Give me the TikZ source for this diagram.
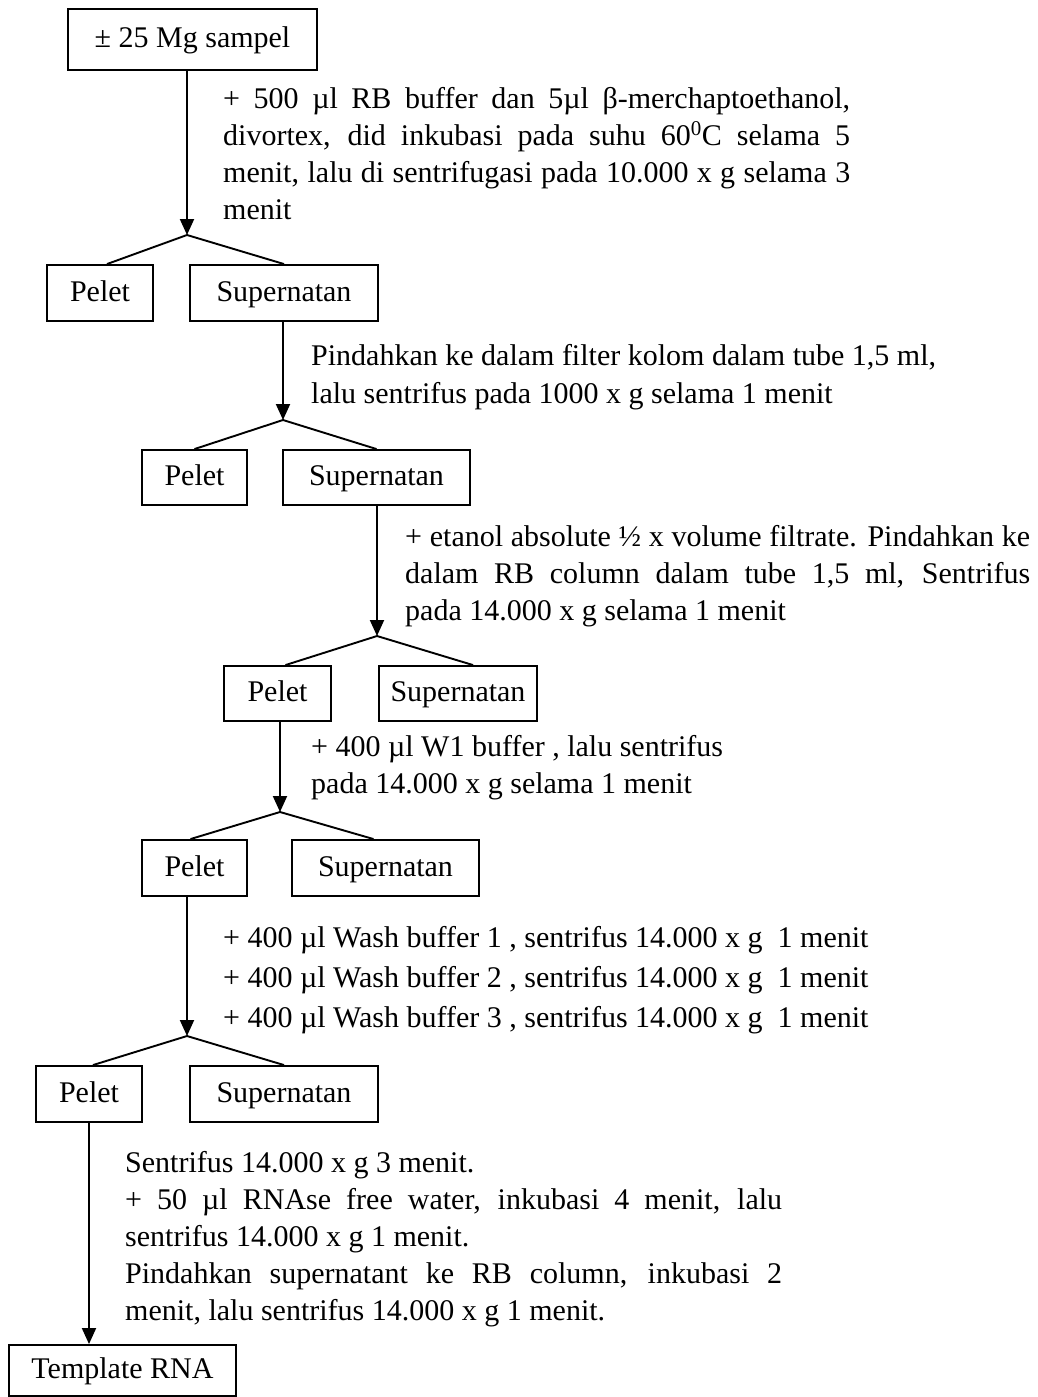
\documentclass[tikz,border=0pt]{standalone}
\usepackage{fontspec}
\setmainfont{Liberation Serif}
\usetikzlibrary{arrows.meta}
\begin{document}
\begin{tikzpicture}[x=1pt,y=-1pt,
  every node/.style={font=\fontsize{30}{37}\selectfont},
  box/.style={draw,line width=1.9pt,inner sep=0pt,minimum height=56pt,text height=22pt,text depth=6pt},
  txt/.style={anchor=base west,inner sep=0pt},
  arr/.style={line width=1.9pt,-{Triangle[width=14pt,length=16pt]}},
  ln/.style={line width=1.9pt}]
\useasboundingbox (0,0) rectangle (1038,1397);

% boxes
\node[box,minimum width=249pt,minimum height=61pt] (a0) at (192.5,39.5) {± 25 Mg sampel};
\node[box,minimum width=106pt] (p1) at (100,293) {Pelet};
\node[box,minimum width=188pt] (s1) at (284,293) {Supernatan};
\node[box,minimum width=105pt,minimum height=55pt] (p2) at (194.5,477.5) {Pelet};
\node[box,minimum width=187pt,minimum height=55pt] (s2) at (376.5,477.5) {Supernatan};
\node[box,minimum width=107pt,minimum height=55pt] (p3) at (277.5,693.5) {Pelet};
\node[box,minimum width=158pt,minimum height=55pt] (s3) at (458,693.5) {Supernatan};
\node[box,minimum width=105pt] (p4) at (194.5,868) {Pelet};
\node[box,minimum width=187pt] (s4) at (385.5,868) {Supernatan};
\node[box,minimum width=106pt] (p5) at (89,1094) {Pelet};
\node[box,minimum width=188pt] (s5) at (284,1094) {Supernatan};
\node[box,minimum width=227pt,minimum height=51pt] (rna) at (122.5,1370.5) {Template RNA};

% fork apexes
\coordinate (f1) at (187,235);
\coordinate (f2) at (283,420);
\coordinate (f3) at (377,636);
\coordinate (f4) at (280,812);
\coordinate (f5) at (187,1036);

% arrows
\draw[arr] (a0.south -| f1) -- (f1);
\draw[arr] (s1.south -| f2) -- (f2);
\draw[arr] (s2.south -| f3) -- (f3);
\draw[arr] (p3.south -| f4) -- (f4);
\draw[arr] (p4.south -| f5) -- (f5);
\draw[arr] (p5.south) -- (p5.south |- rna.north);

% forks
\draw[ln] ([xshift=7pt]p1.north) -- (f1) -- (s1.north);
\draw[ln] (p2.north) -- (f2) -- (s2.north);
\draw[ln] ([xshift=8pt]p3.north) -- (f3) -- ([xshift=15pt]s3.north);
\draw[ln] ([xshift=-4pt]p4.north) -- (f4) -- ([xshift=-12pt]s4.north);
\draw[ln] ([xshift=4pt]p5.north) -- (f5) -- (s5.north);

% step texts
\node[txt] (t1a) at (223,108) {\makebox[627pt][s]{+ 500 µl RB buffer dan 5µl β-merchaptoethanol,}};
\node[txt] (t1b) at (223,145) {\makebox[627pt][s]{divortex, did inkubasi pada suhu 60\textsuperscript{0}C selama 5}};
\node[txt] (t1c) at (223,182) {\makebox[627pt][s]{menit, lalu di sentrifugasi pada 10.000 x g selama 3}};
\node[txt] (t1d) at (223,219) {menit};

\node[txt] (t2a) at (311,365) {Pindahkan ke dalam filter kolom dalam tube 1,5 ml,};
\node[txt] (t2b) at (311,403) {lalu sentrifus pada 1000 x g selama 1 menit};

\node[txt] (t3a) at (405,546) {\makebox[625pt][s]{+ etanol absolute ½ x volume filtrate. Pindahkan ke}};
\node[txt] (t3b) at (405,583) {\makebox[625pt][s]{dalam RB column dalam tube 1,5 ml, Sentrifus}};
\node[txt] (t3c) at (405,620) {pada 14.000 x g selama 1 menit};

\node[txt] (t4a) at (311,756) {+ 400 µl W1 buffer , lalu sentrifus};
\node[txt] (t4b) at (311,793) {pada 14.000 x g selama 1 menit};

\node[txt] (t5a) at (223,947) {+ 400 µl Wash buffer 1 , sentrifus 14.000 x g\ \ 1 menit};
\node[txt] (t5b) at (223,987) {+ 400 µl Wash buffer 2 , sentrifus 14.000 x g\ \ 1 menit};
\node[txt] (t5c) at (223,1027) {+ 400 µl Wash buffer 3 , sentrifus 14.000 x g\ \ 1 menit};

\node[txt] (t6a) at (125,1172) {Sentrifus 14.000 x g 3 menit.};
\node[txt] (t6b) at (125,1209) {\makebox[657pt][s]{+ 50 µl RNAse free water, inkubasi 4 menit, lalu}};
\node[txt] (t6c) at (125,1246) {sentrifus 14.000 x g 1 menit.};
\node[txt] (t6d) at (125,1283) {\makebox[657pt][s]{Pindahkan supernatant ke RB column, inkubasi 2}};
\node[txt] (t6e) at (125,1320) {menit, lalu sentrifus 14.000 x g 1 menit.};
\end{tikzpicture}
\end{document}
